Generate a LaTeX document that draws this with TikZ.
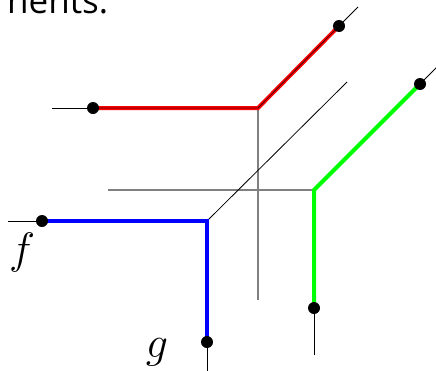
\documentclass[tikz,border=0pt]{standalone}
\usepackage{fix-cm}
\usepackage{fontspec}
\newfontfamily\txtfont{Open Sans}
\begin{document}
\begin{tikzpicture}[x=1pt,y=-1pt,
  thinline/.style={black,line width=0.8pt},
  guide/.style={gray,line width=1.3pt},
  seg/.style={line width=4pt},
  dotnode/.style={circle,fill=black,inner sep=0pt,minimum size=12pt},
  lbl/.style={inner sep=0pt,font=\fontsize{44}{50}\selectfont}]
\useasboundingbox (0,0) rectangle (436,370);
\clip (0,0) rectangle (436,370);
% text
\node[anchor=base west,inner sep=0pt,font=\txtfont\fontsize{35}{40}\selectfont] (txt) at (7,13) {nents.};
% coordinates
\coordinate (ra) at (52,108);
\coordinate (r1) at (93,108);
\coordinate (rc) at (258,108);
\coordinate (r2) at (339,26);
\coordinate (rb) at (358,7);
\coordinate (vb) at (258,300);
\coordinate (hl) at (108,190);
\coordinate (gc) at (314,190);
\coordinate (g1) at (314,308);
\coordinate (ga) at (314,355);
\coordinate (g2) at (420,84);
\coordinate (gb) at (438,66);
\coordinate (ba) at (8,221);
\coordinate (b1) at (42,221);
\coordinate (bc) at (207,221);
\coordinate (b2) at (207,342);
\coordinate (bb) at (207,372);
\coordinate (de) at (347,82);
% guides
\draw[guide] (rc) -- (vb);
\draw[guide] (hl) -- (gc);
\draw[thinline] (bc) -- (de);
% blue
\draw[thinline] (ba) -- (b1);
\draw[thinline] (b2) -- (bb);
\draw[seg,blue] (b1) -- (bc) -- (b2);
% green
\draw[thinline] (g1) -- (ga);
\draw[thinline] (g2) -- (gb);
\draw[seg,green] (g1) -- (gc) -- (g2);
% red
\draw[thinline] (r2) -- (rb);
\draw[thinline] (ra) -- (r1);
\draw[seg,red] (r1) -- (rc) -- (r2);
\draw[line width=0.8pt,black!70!red] (r1) -- (rc) -- (r2);
% dots
\node[dotnode] (d1) at (r1) {};
\node[dotnode] (d2) at (r2) {};
\node[dotnode] (d3) at (g1) {};
\node[dotnode] (d4) at (g2) {};
\node[dotnode] (d5) at (b1) {};
\node[dotnode] (d6) at (b2) {};
% labels
\node[lbl] (f) at (22,252) {$f$};
\node[lbl] (g) at (157,352) {$g$};
\end{tikzpicture}
\end{document}
